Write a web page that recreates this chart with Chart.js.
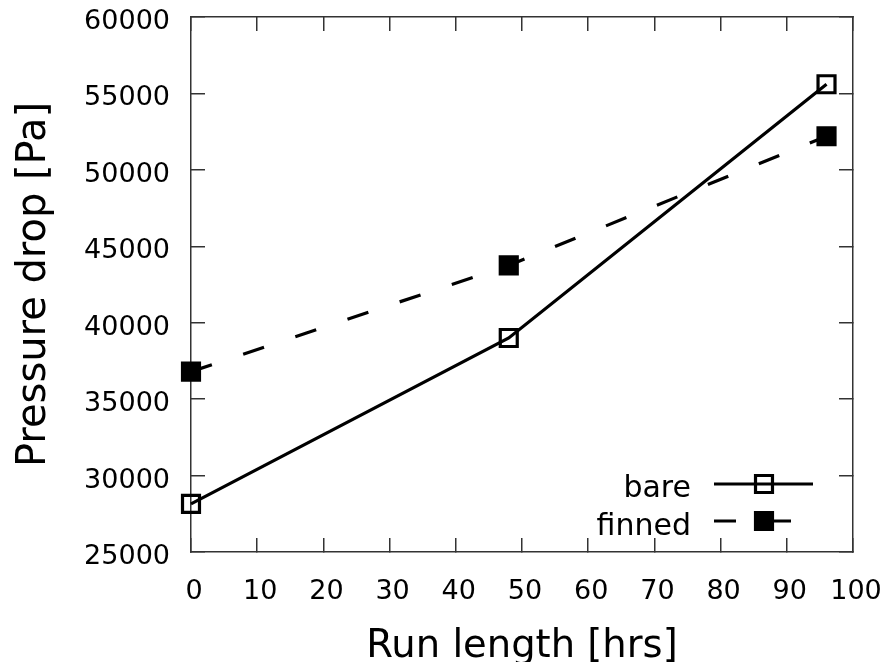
<!DOCTYPE html>
<html>
<head>
<meta charset="utf-8">
<title>Pressure drop vs run length</title>
<script src="https://cdn.jsdelivr.net/npm/chart.js@4.4.1/dist/chart.umd.min.js"></script>
<style>
    html, body { margin: 0; padding: 0; background: #fff; }
    #chart { display: block; }
</style>
</head>
<body>
<canvas id="chart" width="887" height="662"></canvas>
<script>
// values
const runHours = [0, 48, 96];
const bareDrop = [28150, 39000, 55600];
const finnedDrop = [36800, 43750, 52200];
const seriesNames = ['bare', 'finned'];

const X_MIN = 0, X_MAX = 100, X_STEP = 10;
const Y_MIN = 25000, Y_MAX = 60000, Y_STEP = 5000;

const FONT = 'DejaVu Sans';
const AXIS_COLOR = '#333';

const toPoints = (ys) => runHours.map((x, i) => ({ x: x, y: ys[i] }));

// gnuplot style key drawn inside the plot, lower right
const keyPlugin = {
    id: 'gnuKey',
    afterDatasetsDraw(chart) {
        const ctx = chart.ctx;
        const rows = [
            { ds: chart.data.datasets[0], y: 484, textY: 497 },
            { ds: chart.data.datasets[1], y: 521, textY: 535 }
        ];
        ctx.save();
        rows.forEach(row => {
            const ds = row.ds;
            ctx.font = '30px "' + FONT + '"';
            ctx.fillStyle = '#000';
            ctx.textAlign = 'right';
            ctx.textBaseline = 'alphabetic';
            ctx.fillText(ds.label, 691, row.textY);

            ctx.beginPath();
            ctx.strokeStyle = ds.borderColor;
            ctx.lineWidth = ds.borderWidth;
            ctx.setLineDash(ds.borderDash || []);
            ctx.moveTo(714, row.y);
            ctx.lineTo(813, row.y);
            ctx.stroke();
            ctx.setLineDash([]);

            // same square marker as the dataset points
            const h = Math.SQRT1_2 * ds.pointRadius;
            ctx.beginPath();
            ctx.rect(764 - h, row.y - h, 2 * h, 2 * h);
            ctx.fillStyle = ds.pointBackgroundColor;
            ctx.strokeStyle = ds.pointBorderColor;
            ctx.lineWidth = ds.pointBorderWidth;
            ctx.fill();
            ctx.stroke();
        });
        ctx.restore();
    }
};

const tickGrid = {
    drawOnChartArea: false,
    drawTicks: true,
    tickLength: -14,
    color: AXIS_COLOR,
    lineWidth: 1.5
};
const axisBorder = { display: true, color: AXIS_COLOR, width: 1.5 };
const plainNumber = (v) => String(v);

// fixed box sizes, and no extra room asked for the tick labels
const fixHeight = (h) => (scale) => {
    scale.height = h;
    scale.paddingLeft = 0;
    scale.paddingRight = 0;
};
const fixWidth = (w) => (scale) => {
    scale.width = w;
    scale.paddingTop = 0;
    scale.paddingBottom = 0;
};

const ctx = document.getElementById('chart').getContext('2d');
new Chart(ctx, {
    type: 'line',
    data: {
        datasets: [
            {
                label: seriesNames[0],
                data: toPoints(bareDrop),
                borderColor: '#000',
                borderWidth: 3.2,
                pointStyle: 'rect',
                pointRadius: 12,
                pointBorderWidth: 3.2,
                pointBorderColor: '#000',
                pointBackgroundColor: 'rgba(0,0,0,0)',
                tension: 0,
                clip: false
            },
            {
                label: seriesNames[1],
                data: toPoints(finnedDrop),
                borderColor: '#000',
                borderWidth: 3.2,
                borderDash: [22, 33],
                pointStyle: 'rect',
                pointRadius: 12,
                pointBorderWidth: 3.2,
                pointBorderColor: '#000',
                pointBackgroundColor: '#000',
                tension: 0,
                clip: false
            }
        ]
    },
    options: {
        responsive: false,
        animation: false,
        devicePixelRatio: 1,
        layout: { padding: { left: 0, top: 17, right: 34, bottom: 0 } },
        plugins: {
            legend: { display: false },
            tooltip: { enabled: false }
        },
        scales: {
            x: {
                type: 'linear',
                position: 'bottom',
                min: X_MIN,
                max: X_MAX,
                grid: tickGrid,
                border: axisBorder,
                ticks: {
                    stepSize: X_STEP,
                    maxRotation: 0,
                    padding: 38,
                    labelOffset: 3,
                    color: '#000',
                    font: { family: FONT, size: 27 },
                    callback: plainNumber
                },
                title: {
                    display: true,
                    text: 'Run length [hrs]',
                    color: '#000',
                    font: { family: FONT, size: 38.5 },
                    padding: { top: 0, bottom: -8 }
                },
                afterFit: fixHeight(110)
            },
            x2: {
                type: 'linear',
                position: 'top',
                min: X_MIN,
                max: X_MAX,
                grid: tickGrid,
                border: axisBorder,
                ticks: { stepSize: X_STEP, display: false },
                afterFit: fixHeight(0)
            },
            y: {
                type: 'linear',
                position: 'left',
                min: Y_MIN,
                max: Y_MAX,
                grid: tickGrid,
                border: axisBorder,
                ticks: {
                    stepSize: Y_STEP,
                    padding: 35,
                    labelOffset: 5,
                    color: '#000',
                    font: { family: FONT, size: 27 },
                    callback: plainNumber
                },
                title: {
                    display: true,
                    text: 'Pressure drop [Pa]',
                    color: '#000',
                    font: { family: FONT, size: 40 },
                    padding: { top: 11, bottom: 0 }
                },
                afterFit: fixWidth(191)
            },
            y2: {
                type: 'linear',
                position: 'right',
                min: Y_MIN,
                max: Y_MAX,
                grid: tickGrid,
                border: axisBorder,
                ticks: { stepSize: Y_STEP, display: false },
                afterFit: fixWidth(0)
            }
        }
    },
    plugins: [keyPlugin]
});
</script>
</body>
</html>
